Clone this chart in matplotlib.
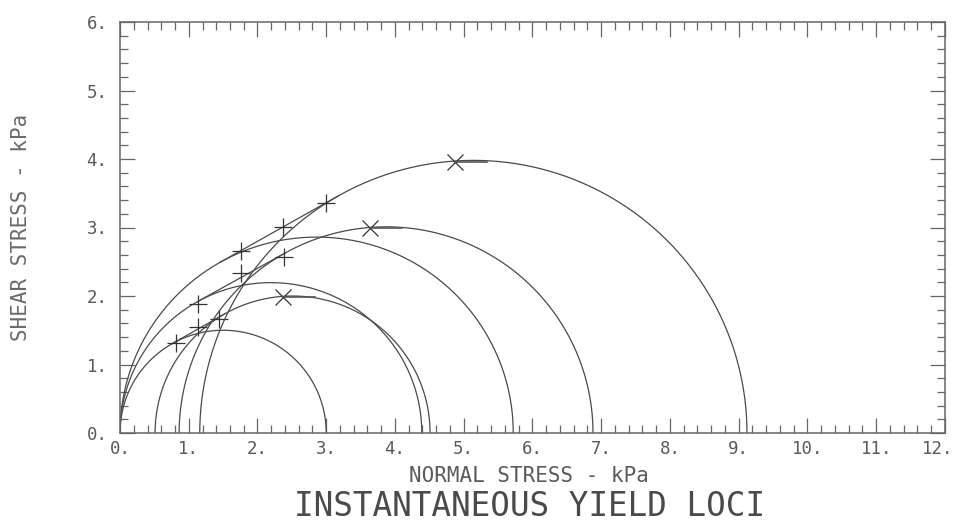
import numpy as np
import matplotlib.pyplot as plt
from matplotlib.ticker import MultipleLocator
from matplotlib.transforms import ScaledTranslation

# Unconfined yield strength circles (pass through the origin), kPa
fc = [3.0, 4.39, 5.72]

# Consolidation circles: minor and major principal stresses, kPa
sigma2 = [0.51, 0.86, 1.16]
sigma1 = [4.51, 6.88, 9.12]

# Preshear points
pre_sigma = [2.37, 3.63, 4.87]
pre_tau = [1.99, 2.99, 3.96]

# Shear points for each yield locus
shear_sigma = [[0.82, 1.13, 1.44],
               [1.14, 1.765, 2.39],
               [1.755, 2.375, 3.0]]
shear_tau = [[1.31, 1.55, 1.67],
             [1.88, 2.34, 2.57],
             [2.65, 3.01, 3.36]]

ink = '#4a4a4a'
font = 'DejaVu Sans Mono'

fig = plt.figure(figsize=(9.57, 5.21), dpi=100)
ax = fig.add_axes([120 / 957, 88 / 521, 825 / 957, 411 / 521])

t = np.linspace(0, np.pi, 400)


def half_circle(lo, hi):
    c = (lo + hi) / 2
    r = (hi - lo) / 2
    ax.plot(c + r * np.cos(t), r * np.sin(t), color=ink, lw=0.9)
    return c, r


for i in range(3):
    c1, r1 = half_circle(0.0, fc[i])
    c2, r2 = half_circle(sigma2[i], sigma1[i])

    # yield locus: common tangent of the two circles
    k = (r2 - r1) / (c2 - c1)
    m = k / np.sqrt(1 - k ** 2)
    s = np.sqrt(1 + m ** 2)
    xa = c1 - r1 * m / s
    ya = r1 / s
    xb = c2 - r2 * m / s
    yb = r2 / s
    ax.plot([xa, xb], [ya, yb], color=ink, lw=0.9)

    ax.plot(shear_sigma[i], shear_tau[i], '+', color='#333333', ms=13, mew=0.9)
    ax.plot(pre_sigma[i], pre_tau[i], 'x', color='#333333', ms=11, mew=0.9)
    ax.plot([pre_sigma[i], pre_sigma[i] + 0.47], [pre_tau[i], pre_tau[i]],
            color='#555555', lw=1.2)

ax.set_xlim(0, 12)
ax.set_ylim(0, 6)

ax.xaxis.set_major_locator(MultipleLocator(1))
ax.xaxis.set_minor_locator(MultipleLocator(0.2))
ax.yaxis.set_major_locator(MultipleLocator(1))
ax.yaxis.set_minor_locator(MultipleLocator(0.2))

xticks = np.arange(0, 13)
yticks = np.arange(0, 7)
ax.set_xticks(xticks)
ax.set_xticklabels([f'{v}.' for v in xticks], fontfamily=font, fontsize=12.5, color='#5a5a5a')
ax.set_yticks(yticks)
ax.set_yticklabels([f'{v}.' for v in yticks], fontfamily=font, fontsize=12.5, color='#5a5a5a')

ax.tick_params(which='both', direction='in', top=True, right=True, color='#666666', width=0.9)
ax.tick_params(which='major', length=11, pad=5)
ax.tick_params(axis='y', which='major', pad=9)
ax.tick_params(which='minor', length=6)

# keep the last x label inside the figure
last = ax.get_xticklabels()[-1]
last.set_transform(last.get_transform() + ScaledTranslation(-7 / 100, 0, fig.dpi_scale_trans))

for sp in ax.spines.values():
    sp.set_color('#666666')
    sp.set_linewidth(1.1)

fig.text(529 / 957, 1 - 476 / 521, 'NORMAL STRESS - kPa', fontfamily=font, fontsize=15,
         color='#5a5a5a', ha='center', va='center')
fig.text(21 / 957, 1 - 227 / 521, 'SHEAR STRESS - kPa', fontfamily=font, fontsize=15,
         color='#6a6a6a', ha='center', va='center', rotation=90)
fig.text(529 / 957, 1 - 506 / 521, 'INSTANTANEOUS YIELD LOCI', fontfamily=font, fontsize=23.5,
         color='#4a4a4a', ha='center', va='center')

fig.savefig('out.png', dpi=100)
